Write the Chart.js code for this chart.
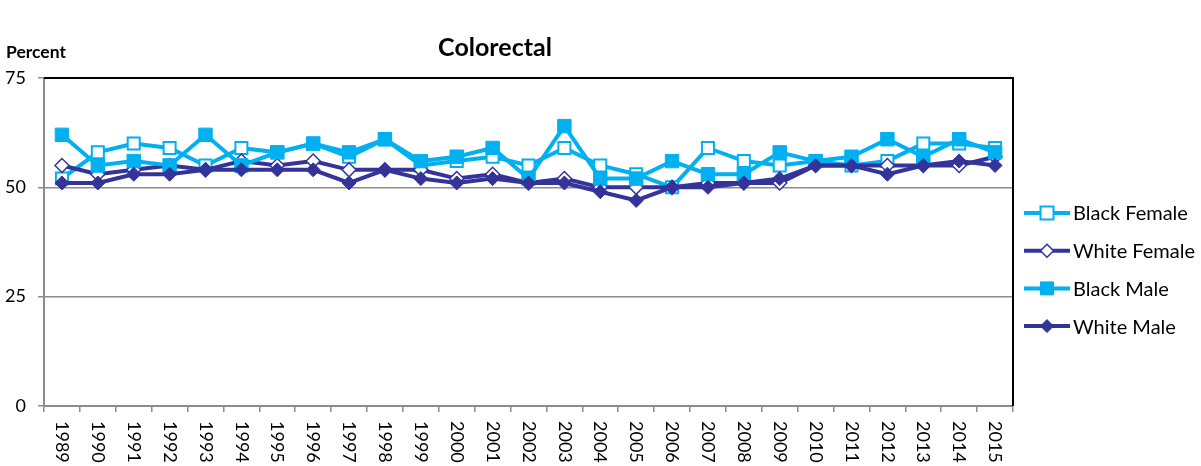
<!DOCTYPE html>
<html><head><meta charset="utf-8">
<script src="https://cdn.jsdelivr.net/npm/chart.js@4"></script>
<style>html,body{margin:0;padding:0;background:#fff;} canvas{display:block}</style>
</head><body>
<div style="width:1201px;height:466px"><canvas id="c" width="1201" height="466"></canvas></div>
<script>
const years = ['1989','1990','1991','1992','1993','1994','1995','1996','1997','1998','1999','2000','2001','2002','2003','2004','2005','2006','2007','2008','2009','2010','2011','2012','2013','2014','2015'];
const seriesNames = ['Black Female','White Female','Black Male','White Male'];
const blackFemale = [52,58,60,59,55,59,58,60,57,61,55,56,57,55,59,55,53,50,59,56,55,56,55,56,60,60,59];
const whiteFemale = [55,53,54,55,54,56,55,56,54,54,54,52,53,51,52,50,50,50,51,51,51,55,55,55,55,55,57];
const blackMale   = [62,55,56,55,62,55,58,60,58,61,56,57,59,52,64,52,52,56,53,53,58,56,57,61,57,61,58];
const whiteMale   = [51,51,53,53,54,54,54,54,51,54,52,51,52,51,51,49,47,50,50,51,52,55,55,53,55,56,55];
const yTicks = [0,25,50,75];
const titleText = 'Colorectal';
const yTitle = 'Percent';

const LIGHT = '#00B0F0', DARK = '#333399', GRID = '#8c8c8c';
const FONT = 'Lato, "Open Sans", sans-serif';

const custom = {
  id: 'custom',
  afterDraw(chart) {
    const ctx = chart.ctx, a = chart.chartArea, xs = chart.scales.x;
    ctx.save();
    ctx.strokeStyle = '#000'; ctx.lineWidth = 2;
    ctx.beginPath();
    ctx.moveTo(a.left, a.top); ctx.lineTo(a.right, a.top); ctx.lineTo(a.right, a.bottom);
    ctx.stroke();
    ctx.fillStyle = '#000';
    ctx.textBaseline = 'middle';
    ctx.textAlign = 'center';
    ctx.font = 'bold 25px ' + FONT;
    ctx.fillText(titleText, 495, 48);
    ctx.textAlign = 'left';
    ctx.font = 'bold 17.5px ' + FONT;
    ctx.fillText(yTitle, 6, 52);
    ctx.font = '18px ' + FONT;
    years.forEach((y, i) => {
      const px = xs.getPixelForValue(i);
      ctx.save();
      ctx.translate(px, 421);
      ctx.rotate(Math.PI / 2);
      ctx.textAlign = 'left'; ctx.textBaseline = 'middle';
      ctx.fillText(y, 0, 0);
      ctx.restore();
    });
    chart.data.datasets.forEach((ds, i) => {
      const y = 213 + i * 37.7;
      ctx.strokeStyle = ds.borderColor; ctx.lineWidth = 4;
      ctx.beginPath(); ctx.moveTo(1024, y); ctx.lineTo(1070, y); ctx.stroke();
      const cx = 1047;
      ctx.fillStyle = ds.pointBackgroundColor;
      ctx.strokeStyle = ds.pointBorderColor;
      ctx.lineWidth = ds.pointBorderWidth;
      ctx.beginPath();
      if (ds.pointStyle === 'rect') {
        ctx.rect(cx - 6.5, y - 6.5, 13, 13);
      } else {
        const r = 6.5;
        ctx.moveTo(cx, y - r); ctx.lineTo(cx + r, y); ctx.lineTo(cx, y + r); ctx.lineTo(cx - r, y); ctx.closePath();
      }
      ctx.fill(); ctx.stroke();
      ctx.fillStyle = '#000';
      ctx.font = '20px ' + FONT;
      ctx.textAlign = 'left'; ctx.textBaseline = 'middle';
      ctx.fillText(ds.label, 1073, y + 1);
    });
    ctx.restore();
  }
};

new Chart(document.getElementById('c'), {
  type: 'line',
  data: {
    labels: years,
    datasets: [
      {label: seriesNames[0], data: blackFemale, borderColor: LIGHT, borderWidth: 4, pointStyle: 'rect', pointRadius: 8.5, pointBorderWidth: 2, pointBackgroundColor: '#fff', pointBorderColor: LIGHT, order: 3},
      {label: seriesNames[1], data: whiteFemale, borderColor: DARK, borderWidth: 4, pointStyle: 'rectRot', pointRadius: 7, pointBorderWidth: 1.5, pointBackgroundColor: '#fff', pointBorderColor: DARK, order: 2},
      {label: seriesNames[2], data: blackMale, borderColor: LIGHT, borderWidth: 4, pointStyle: 'rect', pointRadius: 9.5, pointBorderWidth: 1, pointBackgroundColor: LIGHT, pointBorderColor: LIGHT, order: 1},
      {label: seriesNames[3], data: whiteMale, borderColor: DARK, borderWidth: 4, pointStyle: 'rectRot', pointRadius: 7, pointBorderWidth: 1, pointBackgroundColor: DARK, pointBorderColor: DARK, order: 0}
    ]
  },
  options: {
    responsive: false, animation: false, devicePixelRatio: 1,
    layout: {padding: {top: 78, right: 188, left: 0, bottom: 0}},
    plugins: {legend: {display: false}, title: {display: false}, tooltip: {enabled: false}},
    scales: {
      x: {
        offset: true,
        grid: {offset: true, drawOnChartArea: false, drawTicks: true, tickLength: 6, color: GRID, lineWidth: 1.5},
        border: {color: GRID, width: 2},
        ticks: {display: false},
        afterFit(s) { s.height = 60; }
      },
      y: {
        min: 0, max: 75,
        afterBuildTicks(s) { s.ticks = yTicks.map(v => ({value: v})); },
        ticks: {color: '#000', font: {family: FONT, size: 18}, padding: 12},
        grid: {color: GRID, lineWidth: 1.5, tickLength: 6},
        border: {color: GRID, width: 2},
        afterFit(s) { s.width = 44; }
      }
    }
  },
  plugins: [custom]
});
</script>
</body></html>
